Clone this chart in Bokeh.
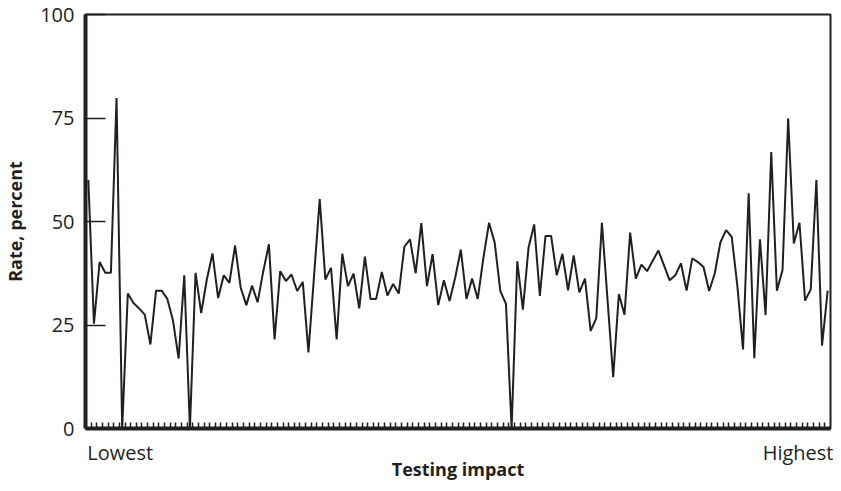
from bokeh.plotting import figure
from bokeh.models import Range1d, FixedTicker
from bokeh.embed import file_html
from bokeh.resources import INLINE

# Rate, percent for each testing-impact step (lowest -> highest)
rate = [
    60.0, 25.3, 40.2, 37.6, 37.6, 79.8, 0.0, 32.6, 30.3, 29.0,
    27.5, 20.3, 33.3, 33.3, 31.3, 26.1, 16.9, 37.0, 0.0, 37.6,
    27.9, 36.0, 42.3, 31.5, 37.0, 35.2, 44.2, 34.0, 29.8, 34.5,
    30.5, 38.0, 44.5, 21.5, 38.0, 35.6, 37.2, 33.2, 35.4, 18.4,
    37.0, 55.4, 36.0, 38.8, 21.5, 42.2, 34.4, 37.4, 29.0, 41.5,
    31.3, 31.3, 37.8, 32.1, 34.9, 32.6, 43.9, 45.7, 37.5, 49.6,
    34.4, 42.1, 29.8, 35.8, 30.8, 36.4, 43.2, 31.3, 36.2, 31.3,
    41.2, 49.7, 44.9, 33.2, 30.1, 0.0, 40.4, 28.7, 43.7, 49.3,
    32.0, 46.5, 46.5, 37.0, 42.2, 33.4, 41.8, 32.9, 36.2, 23.6,
    26.6, 49.7, 31.0, 12.4, 32.5, 27.5, 47.3, 36.2, 39.6, 38.0,
    40.5, 43.0, 39.4, 35.8, 37.0, 39.9, 33.3, 41.1, 40.2, 39.0,
    33.2, 37.5, 45.0, 47.9, 46.3, 34.4, 19.1, 56.8, 17.0, 45.7,
    27.4, 66.8, 33.3, 38.3, 74.9, 44.7, 49.7, 30.9, 33.6, 60.0,
    20.0, 33.3,
]
steps = list(range(len(rate)))
step_edges = [i + 0.5 for i in range(len(rate) - 1)]
y_ticks = [0, 25, 50, 75, 100]
end_labels = ["Lowest", "Highest"]
x_title = "Testing impact"
y_title = "Rate, percent"

# where the two end labels are centred (in step units) so that they sit
# flush with the left and right edges of the plot area
end_label_pos = [5.65, 126.1]

INK = "#231f20"
FONT = "Open Sans"

p = figure(
    width=833, height=488,
    output_backend="svg", toolbar_location=None,
    x_range=Range1d(-0.5, len(rate) - 0.5),
    y_range=Range1d(0, 100),
    min_border_left=79, min_border_right=3,
    min_border_top=14, min_border_bottom=60,
)
p.grid.visible = False
p.background_fill_color = "white"
p.border_fill_color = "white"
p.outline_line_color = INK
p.outline_line_width = 2

p.line(steps, rate, line_color=INK, line_width=2)

# y axis
ya = p.yaxis[0]
ya.ticker = FixedTicker(ticks=y_ticks)
ya.axis_line_color = INK
ya.axis_line_width = 4
ya.major_tick_in = 20
ya.major_tick_out = 0
ya.major_tick_line_color = INK
ya.major_tick_line_width = 1.5
ya.minor_tick_line_color = None
ya.major_label_standoff = 11
ya.major_label_text_font = FONT
ya.major_label_text_font_size = "20px"
ya.major_label_text_color = INK
ya.axis_label = y_title
ya.axis_label_text_font = FONT
ya.axis_label_text_font_style = "bold"
ya.axis_label_text_font_size = "18px"
ya.axis_label_text_color = INK
ya.axis_label_standoff = 10

# x axis
xa = p.xaxis[0]
xa.ticker = FixedTicker(ticks=end_label_pos, minor_ticks=step_edges)
xa.major_label_overrides = {pos: lab for pos, lab in zip(end_label_pos, end_labels)}
xa.axis_line_color = INK
xa.axis_line_width = 4
xa.major_tick_line_color = None
xa.major_tick_in = 0
xa.major_tick_out = 0
xa.minor_tick_in = 6
xa.minor_tick_out = 0
xa.minor_tick_line_color = INK
xa.minor_tick_line_width = 1.5
xa.major_label_standoff = 10
xa.major_label_text_font = FONT
xa.major_label_text_font_size = "20px"
xa.major_label_text_color = INK
xa.axis_label = x_title
xa.axis_label_text_font = FONT
xa.axis_label_text_font_style = "bold"
xa.axis_label_text_font_size = "18px"
xa.axis_label_text_color = INK
xa.axis_label_standoff = -12

open("out.html", "w").write(file_html(p, INLINE))
